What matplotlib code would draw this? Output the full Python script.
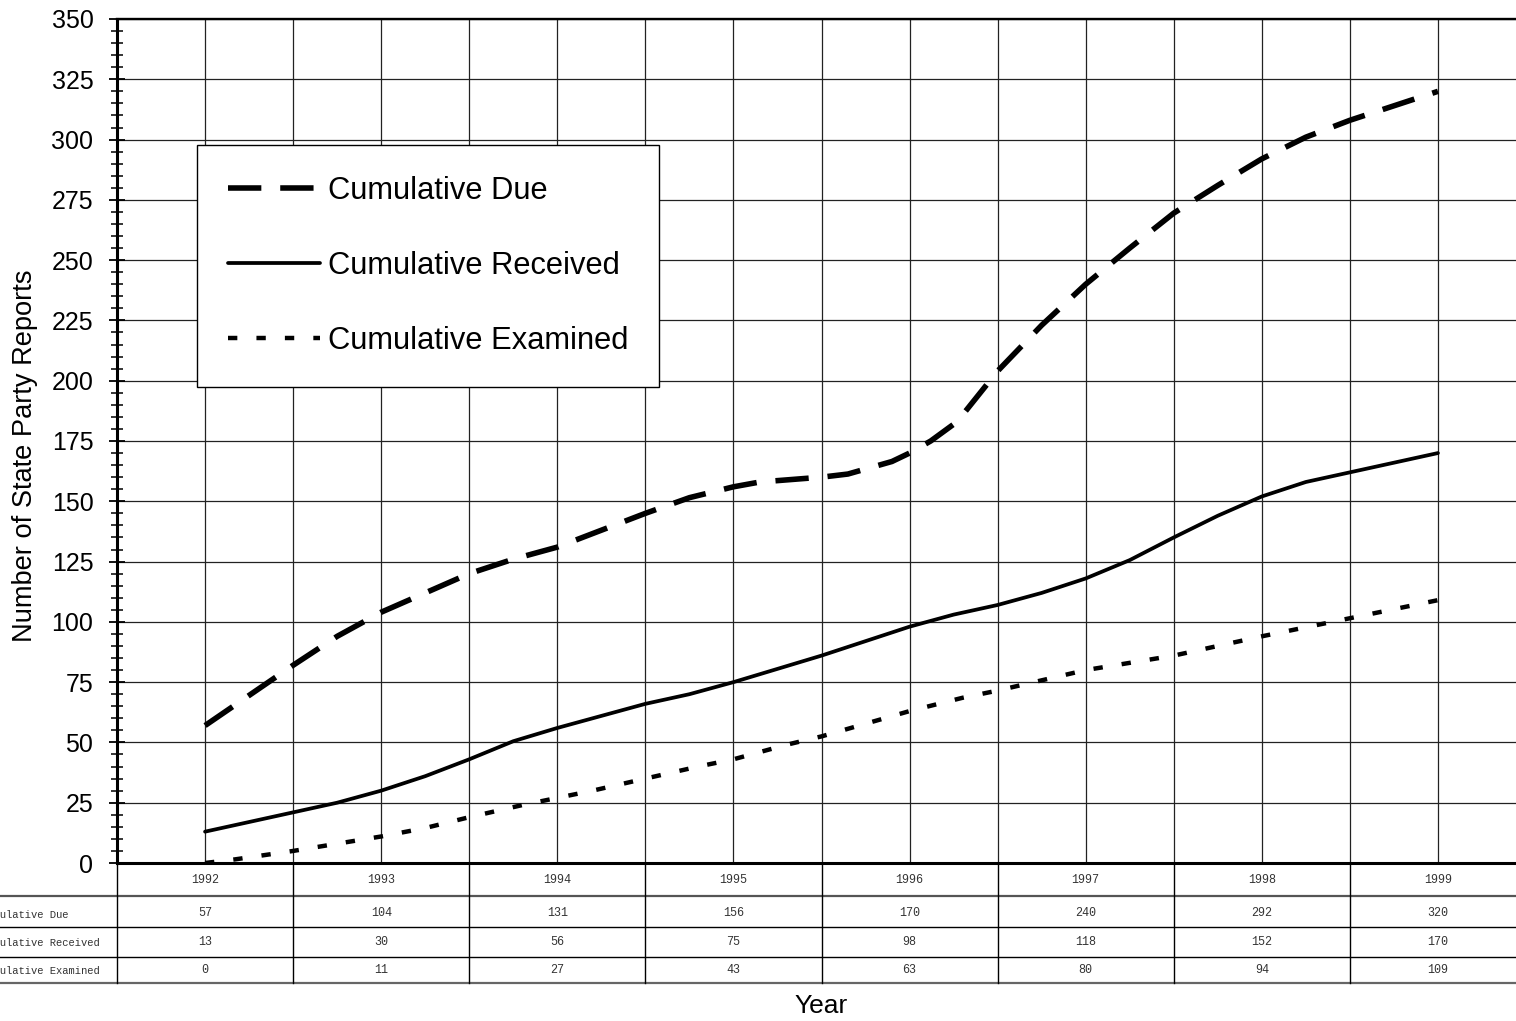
import numpy as np
import matplotlib
matplotlib.use("Agg")
import matplotlib.pyplot as plt
from matplotlib.transforms import blended_transform_factory

plt.rcParams['font.family'] = ['Liberation Sans', 'DejaVu Sans']

# --- data (intermediate kinks estimated) ---
due_x = [1992.0, 1992.25, 1992.5, 1992.75, 1993.0, 1993.25, 1993.5, 1993.75, 1994.0,
         1994.25, 1994.5, 1994.75, 1995.0, 1995.15, 1995.5, 1995.65, 1995.9, 1996.0,
         1996.12, 1996.27, 1996.5, 1996.75, 1997.0, 1997.25, 1997.5, 1997.75, 1998.0,
         1998.25, 1998.5, 1998.75, 1999.0]
due_y = [57, 69.5, 82, 94, 104, 112, 120, 126, 131,
         138, 145, 151.5, 156, 158, 160, 161.3, 166.5, 170,
         175, 183, 204, 223, 240, 255, 269.5, 281, 292,
         301, 308, 314, 320]

rec_x = [1992.0, 1992.25, 1992.5, 1992.75, 1993.0, 1993.25, 1993.5, 1993.75, 1994.0,
         1994.25, 1994.5, 1994.75, 1995.0, 1995.25, 1995.5, 1995.75, 1996.0, 1996.25,
         1996.5, 1996.75, 1997.0, 1997.25, 1997.5, 1997.75, 1998.0, 1998.25, 1998.5,
         1998.75, 1999.0]
rec_y = [13, 17, 21, 25, 30, 36, 43, 50.5, 56,
         61, 66, 70, 75, 80.5, 86, 92, 98, 103,
         107, 112, 118, 125.6, 135, 144, 152, 158, 162,
         166, 170]

exa_x = [1992.0, 1992.17, 1992.5, 1992.75, 1993.0, 1993.25, 1993.5, 1993.8, 1994.0,
         1994.2, 1994.5, 1994.8, 1995.0, 1995.3, 1995.5, 1996.0, 1996.3, 1996.5,
         1997.0, 1997.5, 1998.0, 1998.5, 1999.0]
exa_y = [0, 1.5, 5, 8, 11, 14.5, 19, 24, 27,
         30, 35, 40, 43, 49, 52.5, 63, 68.5, 71.5,
         80, 86, 94, 101.5, 109]

years = [1992, 1993, 1994, 1995, 1996, 1997, 1998, 1999]
tbl_due = [57, 104, 131, 156, 170, 240, 292, 320]
tbl_rec = [13, 30, 56, 75, 98, 118, 152, 170]
tbl_exa = [0, 11, 27, 43, 63, 80, 94, 109]
row_names = ['Cumulative Due', 'Cumulative Received', 'Cumulative Examined']

W, H = 1516, 1021
fig = plt.figure(figsize=(W / 100, H / 100), dpi=100)
ax = fig.add_axes([117 / W, 1 - 863 / H, 1409 / W, 844 / H])

ax.plot(due_x, due_y, color='black', lw=4.0, dashes=(6, 3.4), label='Cumulative Due', zorder=3)
ax.plot(rec_x, rec_y, color='black', lw=2.7, solid_capstyle='round', label='Cumulative Received', zorder=3)
ax.plot(exa_x, exa_y, color='black', lw=3.2, dashes=(2.1, 4.3), label='Cumulative Examined', zorder=3)

ax.set_xlim(1991.5, 1999.5)
ax.set_ylim(0, 350)
ax.set_xticks(np.arange(1992, 1999.51, 0.5))
ax.set_yticks(np.arange(0, 351, 25))
ax.set_yticks(np.arange(0, 351, 5), minor=True)
ax.tick_params(axis='x', length=0, labelbottom=False)
ax.tick_params(axis='y', which='major', direction='inout', length=12, width=1.3, labelsize=18, pad=11)
ax.tick_params(axis='y', which='minor', direction='inout', length=9, width=1.1)
ax.grid(True, which='major', color='#222222', lw=0.9, zorder=1)
ax.set_axisbelow(True)

ax.spines['right'].set_visible(False)
ax.spines['left'].set_linewidth(2.2)
ax.spines['bottom'].set_linewidth(2.2)
ax.spines['top'].set_linewidth(1.7)

ax.set_ylabel('Number of State Party Reports', fontsize=19.6)
ax.yaxis.set_label_coords(-0.056, 0.483)
ax.set_xlabel('Year', fontsize=19)
ax.xaxis.set_label_coords(0.5, -0.155)

leg = ax.legend(loc='upper left', bbox_to_anchor=(197 / W, 1 - 145 / H), bbox_transform=fig.transFigure,
                borderaxespad=0, fontsize=22.2, handlelength=3.0, handletextpad=0.25,
                labelspacing=1.46, borderpad=1.0, fancybox=False, framealpha=1)
leg.get_frame().set_edgecolor('black')
leg.get_frame().set_linewidth(1.0)
leg.set_zorder(5)

# --- data table under the axis ---
tr = blended_transform_factory(ax.transData, ax.transAxes)
def ay(py):
    return (863 - py) / 844.0

for yy, c, lw in [(896, '#555555', 1.6), (927, 'black', 1.0), (957, 'black', 1.0), (983, '#666666', 1.6)]:
    ax.plot([1990.0, 2000.0], [ay(yy), ay(yy)], transform=tr, color=c, lw=lw, clip_on=False)
for xb in np.arange(1991.5, 1999.6, 1.0):
    ax.plot([xb, xb], [ay(863), ay(983)], transform=tr, color='black', lw=1.0, clip_on=False)

mono = dict(family='Liberation Mono', fontsize=8.5, color='#333333', ha='center', va='center', clip_on=False)
for i, yr in enumerate(years):
    ax.text(yr, ay(880), str(yr), transform=tr, **mono)
    ax.text(yr, ay(913), str(tbl_due[i]), transform=tr, **mono)
    ax.text(yr, ay(942), str(tbl_rec[i]), transform=tr, **mono)
    ax.text(yr, ay(970), str(tbl_exa[i]), transform=tr, **mono)

# row labels run off the left edge, as in the original
for name, py in zip(row_names, [915, 943, 971]):
    fig.text(-19 / W, 1 - py / H, name, family='Liberation Mono', fontsize=7.6, color='#333333',
             ha='left', va='center')

fig.savefig('out.png', dpi=100)
